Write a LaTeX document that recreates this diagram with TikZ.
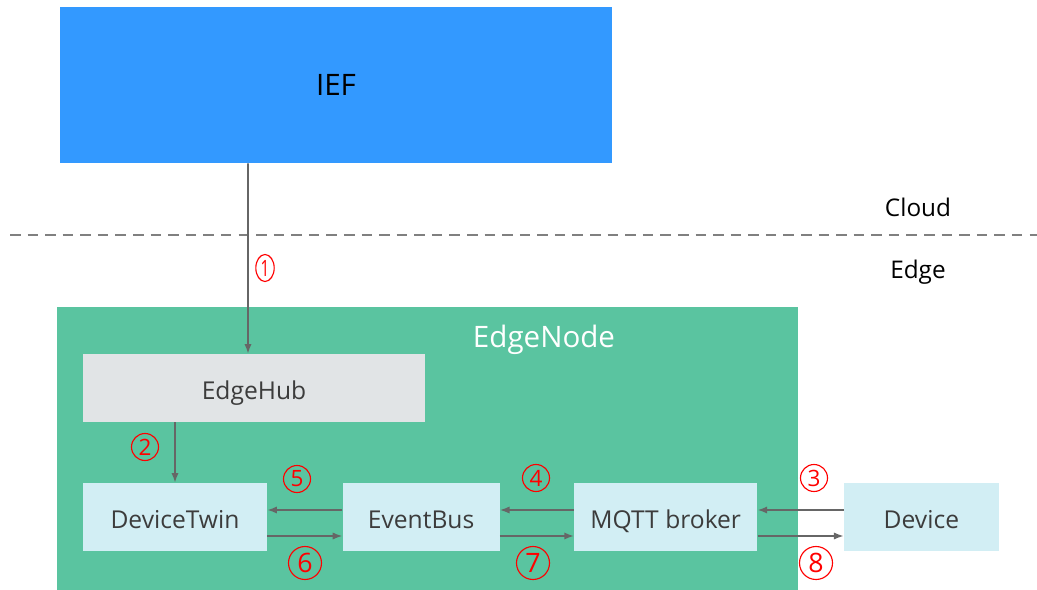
\documentclass[tikz,border=0pt]{standalone}
\usepackage{fontspec}
\setmainfont{Open Sans}
\usetikzlibrary{positioning, arrows.meta}

\definecolor{iefblue}{HTML}{3399FF}
\definecolor{nodegreen}{HTML}{5AC4A0}
\definecolor{hubgray}{HTML}{E1E4E6}
\definecolor{modcyan}{HTML}{D2EEF4}
\definecolor{textgray}{HTML}{3C3C3C}
\definecolor{linegray}{HTML}{666666}
\definecolor{numred}{HTML}{FF0000}

\tikzstyle{cloudbox} = [rectangle, fill=iefblue, minimum width=13.8cm,
  minimum height=3.9cm, text=black, font=\fontsize{21}{24}\selectfont]
\tikzstyle{zone} = [rectangle, fill=nodegreen, minimum width=18.525cm,
  minimum height=7.075cm, inner sep=0pt]
\tikzstyle{hubbox} = [rectangle, fill=hubgray, text=textgray, minimum width=8.55cm,
  minimum height=1.7cm, text height=16.6pt, text depth=0pt,
  font=\fontsize{17.5}{20}\selectfont]
\tikzstyle{module} = [rectangle, fill=modcyan, text=textgray, minimum height=1.7cm,
  text height=16.6pt, text depth=0pt, font=\fontsize{17.5}{20}\selectfont]
\tikzstyle{plane} = [text=black, font=\fontsize{17.3}{20}\selectfont]
\tikzstyle{num} = [circle, draw=numred, line width=0.8pt, text=numred, inner sep=0pt,
  minimum size=0.675cm, font=\fontsize{16}{18}\selectfont]
\tikzstyle{bignum} = [num, minimum size=0.825cm, font=\fontsize{19}{21}\selectfont]
\tikzstyle{line} = [draw=linegray, line width=1.1pt, -{Latex[length=2.4mm,width=1.8mm]}]
\tikzstyle{border} = [draw=gray, line width=1.4pt, dash pattern=on 7.5pt off 5pt]

\begin{document}
\begin{tikzpicture}[x=0.025cm, y=-0.025cm]
  \useasboundingbox (0,0) rectangle (1037,590);

  \node [cloudbox] (ief) at (336,85) {IEF};
  \path [border] (10,235) -- (1037,235);
  \node [plane] (cloud) at (918,207) {Cloud};
  \node [plane] (edge) at (918,272) {Edge};

  \node [zone] (edgenode) at (427.5,448.5) {};
  \node [text=white, font=\fontsize{21}{24}\selectfont] (edgenodetitle) at (544,340) {EdgeNode};

  \node [hubbox] (edgehub) at (254,388) {EdgeHub};
  \node [module, minimum width=4.6cm] (devicetwin) at (175,517) {DeviceTwin};
  \node [module, minimum width=3.925cm, right=1.875cm of devicetwin] (eventbus) {EventBus};
  \node [module, minimum width=4.575cm, right=1.85cm of eventbus] (mqtt) {MQTT broker};
  \node [module, minimum width=3.875cm, right=2.15cm of mqtt] (device) {Device};

  \path [line] ([xshift=-2.2cm]ief.south) -- ([xshift=-0.15cm]edgehub.north);
  \path [line] (edgehub.south -| devicetwin.north) -- (devicetwin.north);
  \path [line] ([yshift=0.175cm]eventbus.west) -- ([yshift=0.175cm]devicetwin.east);
  \path [line] ([yshift=-0.475cm]devicetwin.east) -- ([yshift=-0.475cm]eventbus.west);
  \path [line] ([yshift=0.175cm]mqtt.west) -- ([yshift=0.175cm]eventbus.east);
  \path [line] ([yshift=-0.475cm]eventbus.east) -- ([yshift=-0.475cm]mqtt.west);
  \path [line] ([yshift=0.175cm]device.west) -- ([yshift=0.175cm]mqtt.east);
  \path [line] ([yshift=-0.475cm]mqtt.east) -- ([yshift=-0.475cm]device.west);

  \node [num, xscale=0.68] (n1) at (265,268) {1};
  \node [num] (n2) at (145,447) {2};
  \node [num] (n3) at (814,478) {3};
  \node [num] (n4) at (536,478) {4};
  \node [num] (n5) at (297,479) {5};
  \node [bignum] (n6) at (305,563) {6};
  \node [bignum] (n7) at (533,563) {7};
  \node [bignum] (n8) at (816,563) {8};

\end{tikzpicture}
\end{document}
